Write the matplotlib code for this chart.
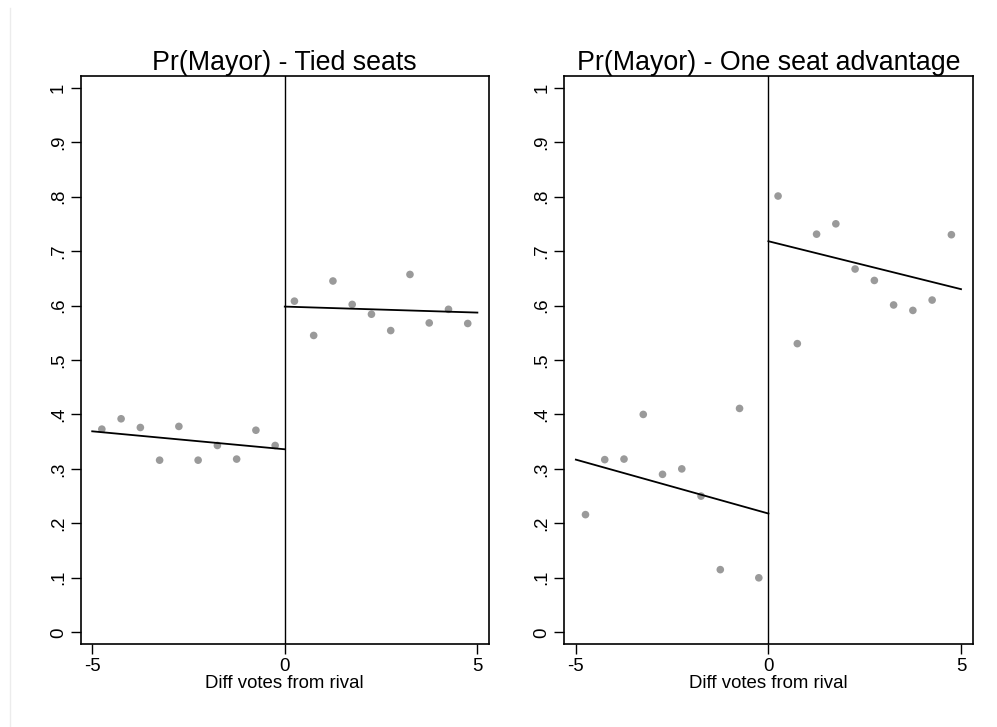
import numpy as np
import matplotlib
matplotlib.use("Agg")
import matplotlib.pyplot as plt
from matplotlib.lines import Line2D

plt.rcParams['font.family'] = ['Liberation Sans', 'DejaVu Sans']

# bin midpoints (vote difference)
bins_left = [-4.75, -4.25, -3.75, -3.25, -2.75, -2.25, -1.75, -1.25, -0.75, -0.25]
bins_right = [0.25, 0.75, 1.25, 1.75, 2.25, 2.75, 3.25, 3.75, 4.25, 4.75]

# Pr(Mayor) - tied seats
tied_left = [0.373, 0.392, 0.376, 0.316, 0.378, 0.316, 0.343, 0.318, 0.371, 0.343]
tied_right = [0.608, 0.545, 0.645, 0.602, 0.584, 0.554, 0.657, 0.568, 0.593, 0.567]
tied_fit_left = [0.369, 0.336]    # fitted values at x=-5 and x=0
tied_fit_right = [0.598, 0.587]   # fitted values at x=0 and x=5

# Pr(Mayor) - one seat advantage
adv_left = [0.216, 0.317, 0.318, 0.400, 0.290, 0.300, 0.250, 0.115, 0.411, 0.100]
adv_right = [0.801, 0.530, 0.731, 0.750, 0.667, 0.646, 0.601, 0.591, 0.610, 0.730]
adv_fit_left = [0.317, 0.218]
adv_fit_right = [0.718, 0.630]

titles = ['Pr(Mayor) - Tied seats', 'Pr(Mayor) - One seat advantage']
yticks = [0, .1, .2, .3, .4, .5, .6, .7, .8, .9, 1]
ylabels = ['0', '.1', '.2', '.3', '.4', '.5', '.6', '.7', '.8', '.9', '1']
xticks = [-5, 0, 5]

panels = [
    (tied_left, tied_right, tied_fit_left, tied_fit_right),
    (adv_left, adv_right, adv_fit_left, adv_fit_right),
]

fig = plt.figure(figsize=(9.97, 7.27), dpi=100)
fig.add_artist(Line2D([10 / 997, 10 / 997], [0, 1 - 8 / 727],
                      transform=fig.transFigure, color='#ececec', lw=1))

lefts = [0.0809, 0.566]
for i, (yl, yr, fl, fr) in enumerate(panels):
    ax = fig.add_axes([lefts[i], 0.1142, 0.4095, 0.7817])
    ax.scatter(bins_left, yl, s=30, color='#9a9a9a', edgecolors='none', zorder=3)
    ax.scatter(bins_right, yr, s=30, color='#9a9a9a', edgecolors='none', zorder=3)
    ax.plot([-5, 0], fl, color='black', lw=1.3, zorder=4)
    ax.plot([0, 5], fr, color='black', lw=1.3, zorder=4)
    ax.axvline(0, color='black', lw=1)

    ax.set_xlim(-5.3, 5.3)
    ax.set_ylim(-0.0215, 1.022)
    ax.set_xticks(xticks)
    ax.set_xticklabels([str(t) for t in xticks])
    ax.set_yticks(yticks)
    ax.set_yticklabels(ylabels, rotation=90, va='center')
    ax.tick_params(axis='both', labelsize=13.4, length=7, width=1, color='black', pad=3)
    ax.set_xlabel('Diff votes from rival', fontsize=13.4, labelpad=0)
    ax.set_title(titles[i], fontsize=19.3, pad=3)
    for sp in ax.spines.values():
        sp.set_linewidth(1.2)

fig.savefig('out.png', dpi=100, facecolor='white')
